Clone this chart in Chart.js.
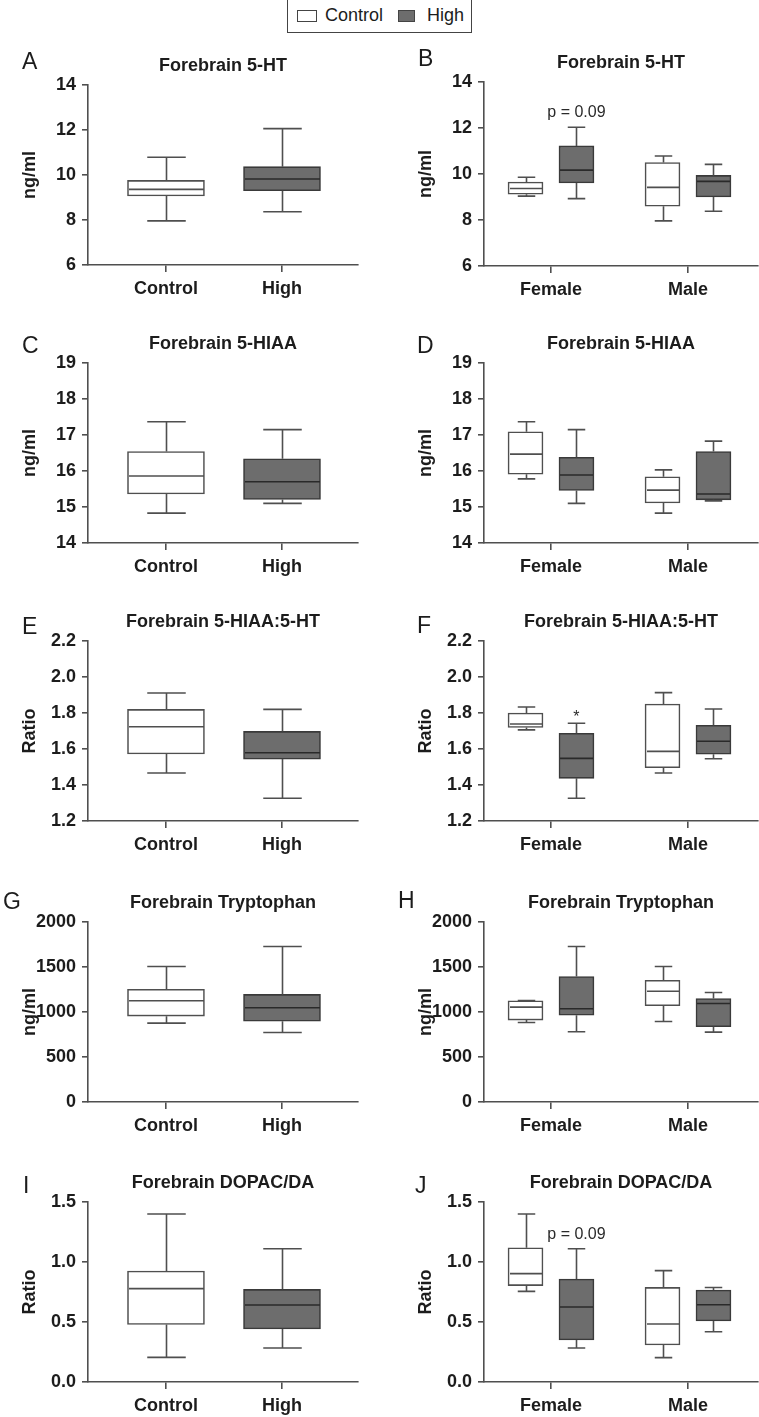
<!DOCTYPE html>
<html>
<head>
<meta charset="utf-8">
<title>Forebrain box plots</title>
<script src="https://cdn.jsdelivr.net/npm/chart.js@4.4.1/dist/chart.umd.min.js"></script>
<style>
  body { margin: 0; background: #fff; }
  #fig { position: relative; width: 759px; height: 1417px; overflow: hidden; background: #fff;
         font-family: "Liberation Sans", Arial, Helvetica, sans-serif; color: #1c1c1c; }
  #fig canvas { position: absolute; }
  .letter { position: absolute; font-size: 23px; line-height: 1; }
  #legend { position: absolute; left: 287px; top: -1px; width: 183px; height: 32px; border: 1px solid #444; }
  #legend .sw { position: absolute; top: 10px; height: 10px; border: 1px solid #444; }
  #legend .lab { position: absolute; top: 6px; font-size: 18px; line-height: 18px; }
</style>
</head>
<body>
<div id="fig">
  <div id="legend">
    <div class="sw" style="left:9px;width:18px;background:#fff"></div>
    <div class="lab" style="left:37px">Control</div>
    <div class="sw" style="left:110px;width:15px;background:#6d6d6d"></div>
    <div class="lab" style="left:139px">High</div>
  </div>
</div>
<script>
var fontFamily = '"Liberation Sans", Arial, Helvetica, sans-serif';
var textColor = '#1c1c1c';
var lineColor = '#4f4f4f';
var highFill = '#6d6d6d';

var dietGroups = ['Control', 'High'];
var sexGroups = ['Female', 'Male'];
var seriesNames = ['Control', 'High'];

// box stats are [min, q1, median, q3, max]
var ht5Diet = [[7.96, 9.07, 9.36, 9.76, 10.79], [8.37, 9.30, 9.82, 10.37, 12.06]];
var ht5SexControl = [[9.04, 9.12, 9.37, 9.65, 9.86], [7.96, 8.60, 9.42, 10.50, 10.78]];
var ht5SexHigh = [[8.93, 9.61, 10.17, 11.22, 12.03], [8.38, 9.00, 9.68, 9.94, 10.42]];

var hiaaDiet = [[14.83, 15.36, 15.86, 16.54, 17.37], [15.10, 15.21, 15.70, 16.34, 17.15]];
var hiaaSexControl = [[15.78, 15.91, 16.47, 17.09, 17.37], [14.83, 15.11, 15.47, 15.84, 16.03]];
var hiaaSexHigh = [[15.10, 15.46, 15.89, 16.38, 17.15], [15.17, 15.20, 15.36, 16.54, 16.83]];

var ratioDiet = [[1.467, 1.572, 1.724, 1.820, 1.911], [1.326, 1.544, 1.579, 1.698, 1.820]];
var ratioSexControl = [[1.706, 1.720, 1.739, 1.800, 1.833], [1.467, 1.496, 1.587, 1.850, 1.913]];
var ratioSexHigh = [[1.326, 1.437, 1.548, 1.687, 1.743], [1.546, 1.571, 1.643, 1.732, 1.822]];

var trpDiet = [[876, 954, 1125, 1253, 1505], [773, 898, 1047, 1195, 1727]];
var trpSexControl = [[884, 910, 1054, 1125, 1128], [895, 1069, 1231, 1353, 1505]];
var trpSexHigh = [[781, 965, 1036, 1394, 1727], [776, 836, 1095, 1150, 1217]];

var dopacDiet = [[0.205, 0.480, 0.778, 0.925, 1.400], [0.283, 0.442, 0.642, 0.772, 1.111]];
var dopacSexControl = [[0.755, 0.803, 0.903, 1.119, 1.400], [0.203, 0.308, 0.483, 0.788, 0.928]];
var dopacSexHigh = [[0.283, 0.350, 0.625, 0.858, 1.111], [0.419, 0.508, 0.644, 0.767, 0.788]];

// y axis [min, max, step]
var ht5Axis = [6, 14, 2];
var hiaaAxis = [14, 19, 1];
var ratioAxis = [1.2, 2.2, 0.2];
var trpAxis = [0, 2000, 500];
var dopacAxis = [0, 1.5, 0.5];

var panels = [
  { id: 'A', title: 'Forebrain 5-HT', yTitle: 'ng/ml', axis: ht5Axis, dec: 0, cats: dietGroups, control: [ht5Diet[0]], high: [ht5Diet[1]] },
  { id: 'B', title: 'Forebrain 5-HT', yTitle: 'ng/ml', axis: ht5Axis, dec: 0, cats: sexGroups, control: ht5SexControl, high: ht5SexHigh, note: { group: 0, text: 'p = 0.09' } },
  { id: 'C', title: 'Forebrain 5-HIAA', yTitle: 'ng/ml', axis: hiaaAxis, dec: 0, cats: dietGroups, control: [hiaaDiet[0]], high: [hiaaDiet[1]] },
  { id: 'D', title: 'Forebrain 5-HIAA', yTitle: 'ng/ml', axis: hiaaAxis, dec: 0, cats: sexGroups, control: hiaaSexControl, high: hiaaSexHigh },
  { id: 'E', title: 'Forebrain 5-HIAA:5-HT', yTitle: 'Ratio', axis: ratioAxis, dec: 1, cats: dietGroups, control: [ratioDiet[0]], high: [ratioDiet[1]] },
  { id: 'F', title: 'Forebrain 5-HIAA:5-HT', yTitle: 'Ratio', axis: ratioAxis, dec: 1, cats: sexGroups, control: ratioSexControl, high: ratioSexHigh, note: { group: 0, text: '*' } },
  { id: 'G', title: 'Forebrain Tryptophan', yTitle: 'ng/ml', axis: trpAxis, dec: 0, cats: dietGroups, control: [trpDiet[0]], high: [trpDiet[1]] },
  { id: 'H', title: 'Forebrain Tryptophan', yTitle: 'ng/ml', axis: trpAxis, dec: 0, cats: sexGroups, control: trpSexControl, high: trpSexHigh },
  { id: 'I', title: 'Forebrain DOPAC/DA', yTitle: 'Ratio', axis: dopacAxis, dec: 1, cats: dietGroups, control: [dopacDiet[0]], high: [dopacDiet[1]] },
  { id: 'J', title: 'Forebrain DOPAC/DA', yTitle: 'Ratio', axis: dopacAxis, dec: 1, cats: sexGroups, control: dopacSexControl, high: dopacSexHigh, note: { group: 0, text: 'p = 0.09' } }
];

// page layout (pixels)
var plotTops = { A: 85, B: 82, C: 363, D: 363, E: 641, F: 641, G: 922, H: 922, I: 1202, J: 1202 };
var plotHeights = { A: 180, B: 184 };
var letterPos = { A: [22, 53], B: [418, 50], C: [22, 337], D: [417, 337], E: [22, 618], F: [417, 617],
                  G: [3, 893], H: [398, 892], I: [23, 1177], J: [415, 1177] };
var leftCol = { left: 0, width: 380, yWidth: 88, padRight: 22, xMin: -0.672, xMax: 1.655, barW: 77, titlePad: 19 };
var rightCol = { left: 380, width: 379, yWidth: 104, padRight: 1, xMin: -0.489, xMax: 1.511, barW: 35, titlePad: 35, off: 0.186 };

var boxPlugin = {
    id: 'boxWhiskers',
    afterDatasetsDraw: function (chart) {
        var ctx = chart.ctx, xs = chart.scales.x, ys = chart.scales.y;
        ctx.save();
        ctx.lineWidth = 1.6;
        chart.data.datasets.forEach(function (ds) {
            var half = ds.barThickness / 2, cap = half / 2;
            ds.data.forEach(function (d) {
                var x = Math.round(xs.getPixelForValue(d.x)) + 0.5;
                var s = d.s;
                var yMin = ys.getPixelForValue(s[0]), yQ1 = ys.getPixelForValue(s[1]);
                var yMed = ys.getPixelForValue(s[2]), yQ3 = ys.getPixelForValue(s[3]);
                var yMax = ys.getPixelForValue(s[4]);
                ctx.strokeStyle = lineColor;
                ctx.beginPath();
                ctx.moveTo(x, yQ3); ctx.lineTo(x, yMax);
                ctx.moveTo(x - cap, yMax); ctx.lineTo(x + cap, yMax);
                ctx.moveTo(x, yQ1); ctx.lineTo(x, yMin);
                ctx.moveTo(x - cap, yMin); ctx.lineTo(x + cap, yMin);
                ctx.stroke();
                ctx.strokeStyle = ds.medianColor;
                ctx.beginPath();
                ctx.moveTo(x - half + 1, yMed); ctx.lineTo(x + half - 1, yMed);
                ctx.stroke();
            });
        });
        var note = chart.options.plugins.boxWhiskers.note;
        if (note) {
            var ds = chart.data.datasets[1];
            var d = ds.data[note.group];
            var nx = xs.getPixelForValue(d.x);
            var ny = ys.getPixelForValue(d.s[4]);
            ctx.fillStyle = '#2a2a2a';
            ctx.textAlign = 'center';
            ctx.textBaseline = 'alphabetic';
            ctx.font = '16px ' + fontFamily;
            ctx.fillText(note.text, nx, note.text === '*' ? ny - 1 : ny - 10);
        }
        ctx.restore();
    }
};

function makeData(p, col) {
    var split = p.cats.length === 2 && p.control.length === 2;
    function pts(list, sign, fixedX) {
        return list.map(function (s, i) {
            var x = split ? i + sign * col.off : fixedX;
            return { x: x, y: [s[1], s[3]], s: s };
        });
    }
    return {
        datasets: [
            { label: seriesNames[0], data: pts(p.control, -1, 0), backgroundColor: '#ffffff', borderColor: lineColor,
              medianColor: lineColor, borderWidth: 1.6, borderSkipped: false, barThickness: col.barW, grouped: false },
            { label: seriesNames[1], data: pts(p.high, 1, 1), backgroundColor: highFill, borderColor: '#3a3a3a',
              medianColor: '#2a2a2a', borderWidth: 1.6, borderSkipped: false, barThickness: col.barW, grouped: false }
        ]
    };
}

var fig = document.getElementById('fig');

panels.forEach(function (p, idx) {
    var col = idx % 2 === 0 ? leftCol : rightCol;
    var plotH = plotHeights[p.id] || 180;
    var top = plotTops[p.id] - 30;

    var canvas = document.createElement('canvas');
    canvas.width = col.width;
    canvas.height = 30 + plotH + 35;
    canvas.style.left = col.left + 'px';
    canvas.style.top = top + 'px';
    fig.appendChild(canvas);

    var letter = document.createElement('div');
    letter.className = 'letter';
    letter.textContent = p.id;
    letter.style.left = letterPos[p.id][0] + 'px';
    letter.style.top = (letterPos[p.id][1] - 3) + 'px';
    fig.appendChild(letter);

    var cats = p.cats;
    new Chart(canvas.getContext('2d'), {
        type: 'bar',
        data: makeData(p, col),
        options: {
            responsive: false,
            animation: false,
            events: [],
            layout: { padding: { left: 0, right: col.padRight, top: 0, bottom: 0 } },
            plugins: {
                legend: { display: false },
                tooltip: { enabled: false },
                title: {
                    display: true, text: p.title, color: textColor, fullSize: false,
                    font: { family: fontFamily, size: 18, weight: 'bold' },
                    padding: { top: 0, bottom: 8.4 }
                },
                boxWhiskers: { note: p.note || null }
            },
            scales: {
                x: {
                    type: 'linear', min: col.xMin, max: col.xMax, offset: false,
                    afterBuildTicks: function (s) { s.ticks = cats.map(function (c, i) { return { value: i }; }); },
                    afterFit: function (s) { s.height = 35; },
                    ticks: {
                        autoSkip: false, maxRotation: 0, padding: 6, color: textColor,
                        font: { family: fontFamily, size: 18, weight: 'bold' },
                        callback: function (v) { return cats[v]; }
                    },
                    grid: { offset: false, drawOnChartArea: false, drawTicks: true, tickLength: 7, color: lineColor, lineWidth: 1.6 },
                    border: { display: true, color: lineColor, width: 1.6 }
                },
                y: {
                    min: p.axis[0], max: p.axis[1],
                    afterFit: function (s) { s.width = col.yWidth; },
                    ticks: {
                        stepSize: p.axis[2], padding: 6, color: textColor,
                        font: { family: fontFamily, size: 18, weight: 'bold' },
                        callback: function (v) { return Number(v).toFixed(p.dec); }
                    },
                    grid: { drawOnChartArea: false, drawTicks: true, tickLength: 6, color: lineColor, lineWidth: 1.6 },
                    border: { display: true, color: lineColor, width: 1.6 },
                    title: {
                        display: true, text: p.yTitle, color: textColor,
                        font: { family: fontFamily, size: 18, weight: 'bold' },
                        padding: { top: col.titlePad, bottom: 0 }
                    }
                }
            }
        },
        plugins: [boxPlugin]
    });
});
</script>
</body>
</html>
